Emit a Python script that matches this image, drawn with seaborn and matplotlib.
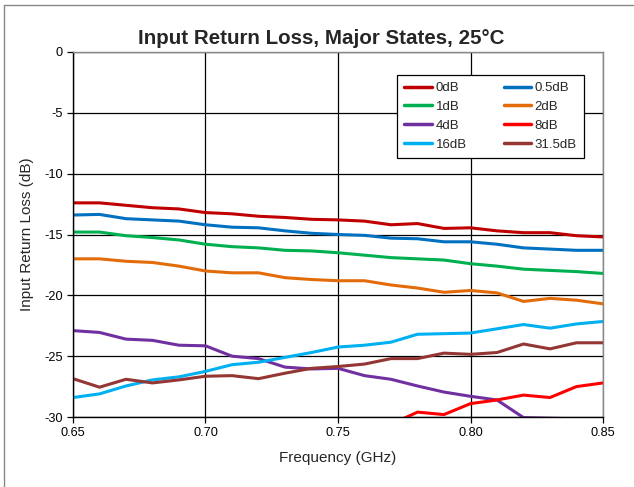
import numpy as np
import matplotlib
matplotlib.use("Agg")
import matplotlib.pyplot as plt
import seaborn as sns
import pandas as pd
from matplotlib.lines import Line2D

freq = [0.65, 0.66, 0.67, 0.68, 0.69, 0.70, 0.71, 0.72, 0.73, 0.74, 0.75,
        0.76, 0.77, 0.78, 0.79, 0.80, 0.81, 0.82, 0.83, 0.84, 0.85]

rl_0db = [-12.4, -12.4, -12.6, -12.8, -12.9, -13.2, -13.3, -13.5, -13.6, -13.75, -13.8,
          -13.9, -14.2, -14.1, -14.5, -14.45, -14.7, -14.85, -14.85, -15.1, -15.2]
rl_05db = [-13.4, -13.35, -13.7, -13.8, -13.9, -14.2, -14.4, -14.45, -14.7, -14.9, -15.0,
           -15.07, -15.3, -15.35, -15.6, -15.6, -15.8, -16.1, -16.2, -16.3, -16.3]
rl_1db = [-14.8, -14.8, -15.1, -15.25, -15.45, -15.8, -16.0, -16.1, -16.3, -16.35, -16.5,
          -16.7, -16.9, -17.0, -17.1, -17.4, -17.6, -17.85, -17.95, -18.05, -18.2]
rl_2db = [-17.0, -17.0, -17.2, -17.3, -17.6, -18.0, -18.15, -18.15, -18.55, -18.7, -18.8,
          -18.8, -19.15, -19.4, -19.75, -19.6, -19.8, -20.5, -20.25, -20.4, -20.7]
rl_4db = [-22.9, -23.05, -23.6, -23.7, -24.1, -24.15, -25.0, -25.2, -25.9, -26.05, -26.0,
          -26.6, -26.9, -27.45, -27.95, -28.3, -28.6, -30.05, -30.1, -30.15, -31.0]
rl_8db = [np.nan, np.nan, np.nan, np.nan, np.nan, np.nan, np.nan, np.nan, np.nan, np.nan, np.nan,
          np.nan, -30.6, -29.6, -29.8, -28.9, -28.6, -28.2, -28.4, -27.5, -27.2]
rl_16db = [-28.4, -28.1, -27.45, -26.95, -26.7, -26.25, -25.7, -25.5, -25.1, -24.7, -24.25,
           -24.1, -23.85, -23.2, -23.15, -23.1, -22.75, -22.4, -22.7, -22.35, -22.15]
rl_315db = [-26.85, -27.55, -26.9, -27.2, -26.95, -26.65, -26.6, -26.85, -26.4, -26.0, -25.85,
            -25.65, -25.2, -25.2, -24.75, -24.85, -24.7, -24.0, -24.4, -23.9, -23.9]

states = ["0dB", "0.5dB", "1dB", "2dB", "4dB", "8dB", "16dB", "31.5dB"]
series = [rl_0db, rl_05db, rl_1db, rl_2db, rl_4db, rl_8db, rl_16db, rl_315db]
colors = ["#C00000", "#0070C0", "#00B050", "#E36C0A", "#7030A0", "#FF0000", "#00B0F0", "#943634"]

rows = []
for name, vals in zip(states, series):
    for f, v in zip(freq, vals):
        rows.append({"Frequency": f, "RL": v, "State": name})
df = pd.DataFrame(rows)

sns.set_style("white")
plt.rcParams["font.family"] = ["Liberation Sans", "DejaVu Sans"]

fig = plt.figure(figsize=(6.34, 4.87), dpi=100)
ax = fig.add_axes([73 / 634, 70 / 487, 530 / 634, 365 / 487])

sns.lineplot(data=df, x="Frequency", y="RL", hue="State", hue_order=states,
             palette=colors, linewidth=2.2, ax=ax, legend=False, sort=False)

ax.set_xlim(0.65, 0.85)
ax.set_ylim(-30, 0)
ax.set_xticks([0.65, 0.70, 0.75, 0.80, 0.85])
ax.set_xticklabels(["0.65", "0.70", "0.75", "0.80", "0.85"])
ax.set_yticks([0, -5, -10, -15, -20, -25, -30])
ax.set_yticklabels(["0", "-5", "-10", "-15", "-20", "-25", "-30"])
ax.grid(True, color="black", linewidth=0.9)
ax.set_axisbelow(True)
ax.tick_params(axis="both", labelsize=9.2, direction="out", length=4, width=0.9,
               colors="black", bottom=True, left=True)
for side in ["top", "right"]:
    ax.spines[side].set_color("#888888")
for side in ["left", "bottom"]:
    ax.spines[side].set_color("black")
for sp in ax.spines.values():
    sp.set_linewidth(1.0)
    sp.set_visible(True)

ax.set_xlabel("Frequency (GHz)", fontsize=11, labelpad=8)
ax.set_ylabel("Input Return Loss (dB)", fontsize=11, labelpad=7)
fig.text(0.507, 1 - 43.7 / 487, "Input Return Loss, Major States, 25°C",
         fontsize=14.8, fontweight="bold", ha="center", va="baseline")

# row-major legend order (0dB, 0.5dB / 1dB, 2dB / ...)
order = [0, 2, 4, 6, 1, 3, 5, 7]
handles = [Line2D([0], [0], color=colors[i], linewidth=2.5) for i in order]
labels = [states[i] for i in order]
leg = ax.legend(handles, labels, ncol=2, loc="upper right",
                bbox_to_anchor=(0.964, 0.938), fontsize=9.5, frameon=True,
                fancybox=False, edgecolor="black", framealpha=1,
                handlelength=2.1, handletextpad=0.25, columnspacing=2.8,
                labelspacing=0.5, borderpad=0.55, borderaxespad=0)
leg.get_frame().set_linewidth(0.9)

# outer chart border
fig.add_artist(Line2D([4 / 634, 4 / 634], [0, 1 - 5 / 487], color="#888888",
                      linewidth=1.0, transform=fig.transFigure))
fig.add_artist(Line2D([4 / 634, 1], [1 - 5 / 487, 1 - 5 / 487], color="#888888",
                      linewidth=1.0, transform=fig.transFigure))

fig.savefig("out.png", dpi=100)
